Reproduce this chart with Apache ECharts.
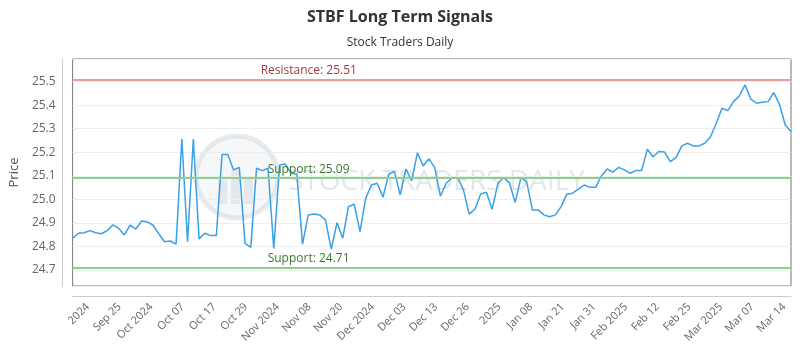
<!DOCTYPE html>
<html>
<head>
<meta charset="utf-8">
<script src="https://cdn.jsdelivr.net/npm/echarts@6/dist/echarts.min.js"></script>
<style>html,body{margin:0;padding:0;background:#fff}#chart{width:800px;height:350px}</style>
</head>
<body>
<div id="chart"></div>
<script>
const dates = [
 '2024-09-12','2024-09-13','2024-09-16','2024-09-17','2024-09-18','2024-09-19','2024-09-20','2024-09-23','2024-09-24','2024-09-25','2024-09-26','2024-09-27','2024-09-30',
 '2024-10-01','2024-10-02','2024-10-03','2024-10-04','2024-10-07','2024-10-08','2024-10-09','2024-10-10','2024-10-11','2024-10-14','2024-10-15','2024-10-16','2024-10-17','2024-10-18','2024-10-21','2024-10-22','2024-10-23','2024-10-24','2024-10-25','2024-10-28','2024-10-29','2024-10-30','2024-10-31',
 '2024-11-01','2024-11-04','2024-11-05','2024-11-06','2024-11-07','2024-11-08','2024-11-11','2024-11-12','2024-11-13','2024-11-14','2024-11-15','2024-11-18','2024-11-19','2024-11-20','2024-11-21','2024-11-22','2024-11-25','2024-11-26','2024-11-27','2024-11-29',
 '2024-12-02','2024-12-03','2024-12-04','2024-12-05','2024-12-06','2024-12-09','2024-12-10','2024-12-11','2024-12-12','2024-12-13','2024-12-16','2024-12-17','2024-12-18','2024-12-19','2024-12-20','2024-12-23','2024-12-24','2024-12-26','2024-12-27','2024-12-30','2024-12-31',
 '2025-01-02','2025-01-03','2025-01-06','2025-01-07','2025-01-08','2025-01-10','2025-01-13','2025-01-14','2025-01-15','2025-01-16','2025-01-17','2025-01-21','2025-01-22','2025-01-23','2025-01-24','2025-01-27','2025-01-28','2025-01-29','2025-01-30','2025-01-31',
 '2025-02-03','2025-02-04','2025-02-05','2025-02-06','2025-02-07','2025-02-10','2025-02-11','2025-02-12','2025-02-13','2025-02-14','2025-02-18','2025-02-19','2025-02-20','2025-02-21','2025-02-24','2025-02-25','2025-02-26','2025-02-27','2025-02-28',
 '2025-03-03','2025-03-04','2025-03-05','2025-03-06','2025-03-07','2025-03-10','2025-03-11','2025-03-12','2025-03-13','2025-03-14'
];

const prices = [
 24.835,24.856,24.858,24.867,24.858,24.854,24.867,24.892,24.877,24.849,
 24.890,24.874,24.908,24.904,24.890,24.853,24.820,24.823,24.810,25.256,
 24.820,25.256,24.832,24.856,24.846,24.846,25.190,25.190,25.125,25.135,
 24.813,24.796,25.132,25.122,25.132,24.792,25.146,25.150,25.111,25.108,
 24.810,24.934,24.938,24.934,24.912,24.789,24.901,24.835,24.969,24.979,
 24.863,25.005,25.061,25.068,25.009,25.107,25.118,25.019,25.129,25.079,
 25.198,25.142,25.172,25.136,25.014,25.068,25.092,25.092,25.040,24.937,
 24.958,25.023,25.030,24.958,25.068,25.092,25.071,24.986,25.092,25.075,
 24.955,24.955,24.934,24.926,24.934,24.969,25.022,25.026,25.043,25.061,
 25.051,25.051,25.099,25.129,25.115,25.136,25.125,25.111,25.122,25.122,
 25.213,25.181,25.203,25.201,25.160,25.177,25.227,25.238,25.227,25.227,
 25.238,25.266,25.323,25.387,25.377,25.415,25.439,25.486,25.426,25.408,
 25.412,25.415,25.453,25.403,25.316,25.288
];

const tickLabels = ['2024','Sep 25','Oct 2024','Oct 07','Oct 17','Oct 29','Nov 2024','Nov 08','Nov 20','Dec 2024','Dec 03','Dec 13','Dec 26','2025','Jan 08','Jan 21','Jan 31','Feb 2025','Feb 12','Feb 25','Mar 2025','Mar 07','Mar 14'];

const resistanceLevel = 25.51;
const supportLevels = [25.09, 24.71];

const FONT = "'Open Sans', 'DejaVu Sans', sans-serif";
const chart = echarts.init(document.getElementById('chart'), null, {renderer: 'canvas'});

const option = {
  animation: false,
  backgroundColor: '#fff',
  textStyle: {fontFamily: FONT},
  title: [
    {text: 'STBF Long Term Signals', left: 'center', top: 4,
     textStyle: {fontFamily: FONT, fontSize: 16, fontWeight: 'bold', color: '#333'}},
    {text: 'Stock Traders Daily', left: 'center', top: 32,
     textStyle: {fontFamily: FONT, fontSize: 12, fontWeight: 'normal', color: '#333'}}
  ],
  graphic: [
    {type: 'circle', z: 0, shape: {cx: 237, cy: 177, r: 41},
     style: {fill: 'rgba(200,210,220,0.18)', stroke: 'rgba(190,200,210,0.35)', lineWidth: 5}},
    {type: 'rect', z: 0, shape: {x: 218, y: 180, width: 9, height: 24}, style: {fill: 'rgba(190,200,210,0.3)'}},
    {type: 'rect', z: 0, shape: {x: 231, y: 170, width: 9, height: 34}, style: {fill: 'rgba(190,200,210,0.3)'}},
    {type: 'rect', z: 0, shape: {x: 244, y: 176, width: 9, height: 28}, style: {fill: 'rgba(190,200,210,0.3)'}},
    {type: 'text', z: 0, left: 288, top: 168,
     style: {text: 'STOCK TRADERS DAILY', font: "28px 'Open Sans', sans-serif", fill: 'rgba(185,195,205,0.4)'}}
  ],
  grid: [
    {left: 70, right: 9, top: 59, bottom: 64, show: true, borderColor: '#777', borderWidth: 1, containLabel: false},
    {left: 72, right: 0, top: 59, bottom: 64, show: false, containLabel: false}
  ],
  xAxis: [
    {type: 'category', gridIndex: 0, data: dates, boundaryGap: false, offset: 10,
     axisLine: {show: true, lineStyle: {color: '#ccc'}}, axisTick: {show: false},
     axisLabel: {show: false}, splitLine: {show: false}},
    {type: 'category', gridIndex: 1, data: tickLabels, boundaryGap: true, offset: 10,
     axisLine: {show: false}, axisTick: {show: false}, splitLine: {show: false},
     axisLabel: {show: true, interval: 0, rotate: 45, margin: 9, fontSize: 11, color: '#666', fontFamily: FONT}}
  ],
  yAxis: [
    {type: 'value', gridIndex: 0, min: 24.632, max: 25.596, splitNumber: 10, offset: 10,
     name: 'Price', nameLocation: 'middle', nameGap: 39,
     nameTextStyle: {fontSize: 13, color: '#555', fontFamily: FONT},
     axisLine: {show: true, lineStyle: {color: '#ccc'}}, axisTick: {show: false},
     axisLabel: {margin: 7, fontSize: 12, color: '#666', fontFamily: FONT,
       showMinLabel: false, showMaxLabel: false,
       formatter: function (v) { return Math.abs(v * 10 - Math.round(v * 10)) < 1e-6 ? v.toFixed(1) : ''; }},
     splitLine: {show: true, lineStyle: {color: '#eeeeee'}}},
    {type: 'value', gridIndex: 1, show: false}
  ],
  series: [
    {type: 'line', xAxisIndex: 0, yAxisIndex: 0, data: prices, showSymbol: false, symbol: 'none',
     lineStyle: {color: '#3aa0e8', width: 1.5}, itemStyle: {color: '#3aa0e8'}, z: 3,
     markLine: {
       silent: true, symbol: 'none', animation: false,
       data: [
         {yAxis: resistanceLevel, lineStyle: {color: '#e3a0a0', width: 2, type: 'solid'},
          label: {show: true, position: 'insideStartTop', distance: [188, 3], formatter: 'Resistance: ' + resistanceLevel.toFixed(2),
                  color: '#a33a3a', fontSize: 12, fontFamily: FONT}},
         {yAxis: supportLevels[0], lineStyle: {color: '#8fd08f', width: 2, type: 'solid'},
          label: {show: true, position: 'insideStartTop', distance: [195, 3], formatter: 'Support: ' + supportLevels[0].toFixed(2),
                  color: '#3a7a2a', fontSize: 12, fontFamily: FONT}},
         {yAxis: supportLevels[1], lineStyle: {color: '#8fd08f', width: 2, type: 'solid'},
          label: {show: true, position: 'insideStartTop', distance: [195, 3], formatter: 'Support: ' + supportLevels[1].toFixed(2),
                  color: '#3a7a2a', fontSize: 12, fontFamily: FONT}}
       ]
     }}
  ]
};
chart.setOption(option);
</script>
</body>
</html>
